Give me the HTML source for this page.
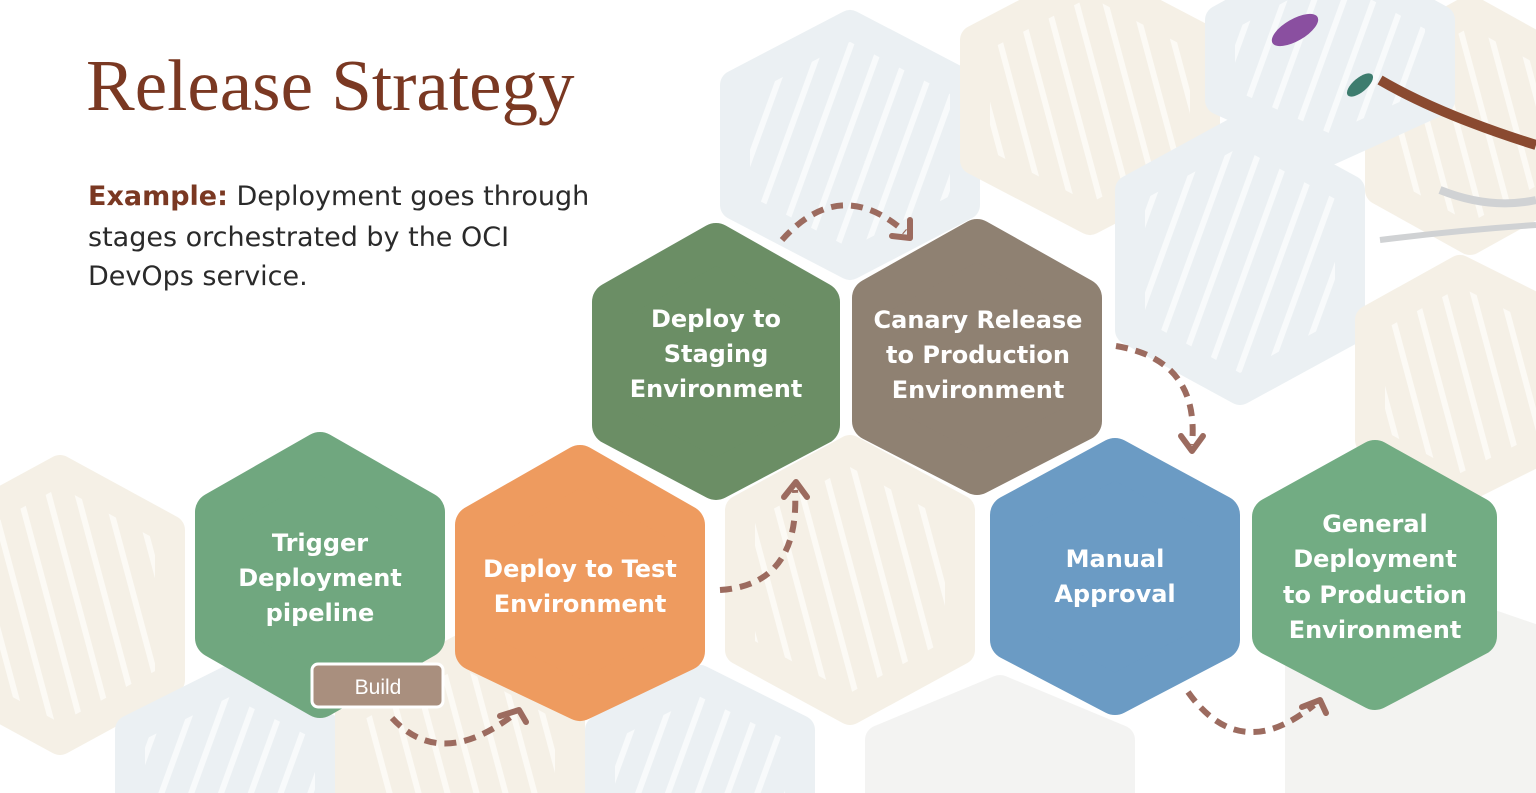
<!DOCTYPE html>
<html><head><meta charset="utf-8"><style>
html,body{margin:0;padding:0;background:#fff;width:1536px;height:793px;overflow:hidden;}
svg{display:block}
</style></head><body>
<svg width="1536" height="793" viewBox="0 0 1536 793" xmlns="http://www.w3.org/2000/svg">
<defs>
<pattern id="stripeB" width="28" height="28" patternUnits="userSpaceOnUse" patternTransform="rotate(20)">
<rect width="28" height="28" fill="#e3ebee"/><rect width="6" height="28" fill="#f6f9fa"/></pattern>
<pattern id="stripeY" width="28" height="28" patternUnits="userSpaceOnUse" patternTransform="rotate(-15)">
<rect width="28" height="28" fill="#f1ebdc"/><rect width="6" height="28" fill="#fbf8f2"/></pattern>
</defs>
<g stroke-linejoin="round" stroke-width="30" opacity="0.7">
<polygon points="850,25 965,85 965,205 850,265 735,205 735,85" fill="url(#stripeB)" stroke="#e3ebee"/>
<polygon points="1090,-20 1205,40 1205,160 1090,220 975,160 975,40" fill="url(#stripeY)" stroke="#f1ebdc"/>
<polygon points="1240,130 1350,190 1350,330 1240,390 1130,330 1130,190" fill="url(#stripeB)" stroke="#e3ebee"/>
<polygon points="1470,10 1560,60 1560,190 1470,240 1380,190 1380,60" fill="url(#stripeY)" stroke="#f1ebdc"/>
<polygon points="1460,270 1560,320 1560,440 1460,490 1370,440 1370,320" fill="url(#stripeY)" stroke="#f1ebdc"/>
<polygon points="1330,-40 1440,20 1440,100 1330,150 1220,100 1220,20" fill="url(#stripeB)" stroke="#e3ebee"/>
<polygon points="60,470 170,530 170,680 60,740 -50,680 -50,530" fill="url(#stripeY)" stroke="#f1ebdc"/>
<polygon points="230,680 330,730 330,820 230,870 130,820 130,730" fill="url(#stripeB)" stroke="#e3ebee"/>
<polygon points="460,650 570,710 570,820 460,870 350,820 350,710" fill="url(#stripeY)" stroke="#f1ebdc"/>
<polygon points="700,680 800,730 800,820 700,870 600,820 600,730" fill="url(#stripeB)" stroke="#e3ebee"/>
<polygon points="850,450 960,510 960,650 850,710 740,650 740,510" fill="url(#stripeY)" stroke="#f1ebdc"/>
<polygon points="1420,600 1536,640 1536,800 1420,840 1300,800 1300,660" fill="#eeeeec" stroke="#eeeeec"/>
<polygon points="1000,690 1120,740 1120,820 1000,860 880,820 880,740" fill="#efefed" stroke="#efefed"/>
</g>
<g stroke-linejoin="round" stroke-width="40">
<polygon points="320,452 425,512 425,638 320,698 215,638 215,512" fill="#70a77f" stroke="#70a77f"/>
<polygon points="580,465 685,525 685,651 580,701 475,651 475,525" fill="#ee9b5f" stroke="#ee9b5f"/>
<polygon points="716,243 820,302 820,425 716,480 612,425 612,302" fill="#6b8e65" stroke="#6b8e65"/>
<polygon points="977,239 1082,298 1082,421 977,475 872,421 872,298" fill="#8f8172" stroke="#8f8172"/>
<polygon points="1115,458 1220,515 1220,640 1115,695 1010,640 1010,515" fill="#6b9bc4" stroke="#6b9bc4"/>
<polygon points="1375,460 1477,517 1477,636 1375,690 1272,636 1272,517" fill="#72ac83" stroke="#72ac83"/>
</g>
<rect x="312" y="664" width="131" height="43" rx="6" fill="#a98f7e" stroke="#fff" stroke-width="3"/>
<text x="378" y="694" font-family="Liberation Sans, sans-serif" font-size="21" fill="#fff" text-anchor="middle">Build</text>
<g font-family="DejaVu Sans, Liberation Sans, sans-serif" font-weight="bold" font-size="24" fill="#fff" text-anchor="middle">
<text x="320" y="551">Trigger</text><text x="320" y="586">Deployment</text><text x="320" y="621">pipeline</text>
<text x="580" y="577">Deploy to Test</text><text x="580" y="612">Environment</text>
<text x="716" y="327">Deploy to</text><text x="716" y="362">Staging</text><text x="716" y="397">Environment</text>
<text x="978" y="328">Canary Release</text><text x="978" y="363">to Production</text><text x="978" y="398">Environment</text>
<text x="1115" y="567">Manual</text><text x="1115" y="602">Approval</text>
<text x="1375" y="532">General</text><text x="1375" y="567">Deployment</text><text x="1375" y="603">to Production</text><text x="1375" y="638">Environment</text>
</g>
<g fill="none" stroke="#9c6b5f" stroke-width="6" stroke-linejoin="round" stroke-linecap="round">
<path d="M392,718 Q440,770 512,716" stroke-dasharray="12,8" stroke-linecap="butt"/>
<path d="M500,716 L519,710 L526,722"/>
<path d="M720,590 Q800,585 795,490" stroke-dasharray="12,8" stroke-linecap="butt"/>
<path d="M784,497 L796,482 L807,497"/>
<path d="M782,240 Q840,175 905,232" stroke-dasharray="12,8" stroke-linecap="butt"/>
<path d="M892,236 L910,238 L910,220"/>
<path d="M1116,346 Q1200,360 1192,445" stroke-dasharray="12,8" stroke-linecap="butt"/>
<path d="M1181,436 L1192,451 L1203,436"/>
<path d="M1188,692 Q1240,765 1314,705" stroke-dasharray="12,8" stroke-linecap="butt"/>
<path d="M1302,707 L1320,700 L1326,713"/>
</g>
<text x="86" y="110" font-family="Liberation Serif, serif" font-size="73" fill="#7a3822">Release Strategy</text>
<g font-family="DejaVu Sans, Liberation Sans, sans-serif" font-size="27" fill="#2a2a2a">
<text x="88" y="205"><tspan font-weight="bold" fill="#7a3822">Example:</tspan> Deployment goes through</text>
<text x="88" y="246">stages orchestrated by the OCI</text>
<text x="88" y="285">DevOps service.</text>
</g>
<g>
<ellipse cx="1295" cy="30" rx="26" ry="11" fill="#8a4fa0" transform="rotate(-30 1295 30)"/>
<path d="M1380,80 Q1440,115 1536,145" stroke="#8a4a30" stroke-width="10" fill="none"/>
<ellipse cx="1360" cy="85" rx="16" ry="7" fill="#3d7c6e" transform="rotate(-40 1360 85)"/>
<path d="M1440,190 Q1490,210 1536,200" stroke="#d0d2d4" stroke-width="8" fill="none"/>
<path d="M1380,240 Q1460,230 1536,225" stroke="#d0d2d4" stroke-width="6" fill="none"/>
</g>
</svg>
</body></html>
